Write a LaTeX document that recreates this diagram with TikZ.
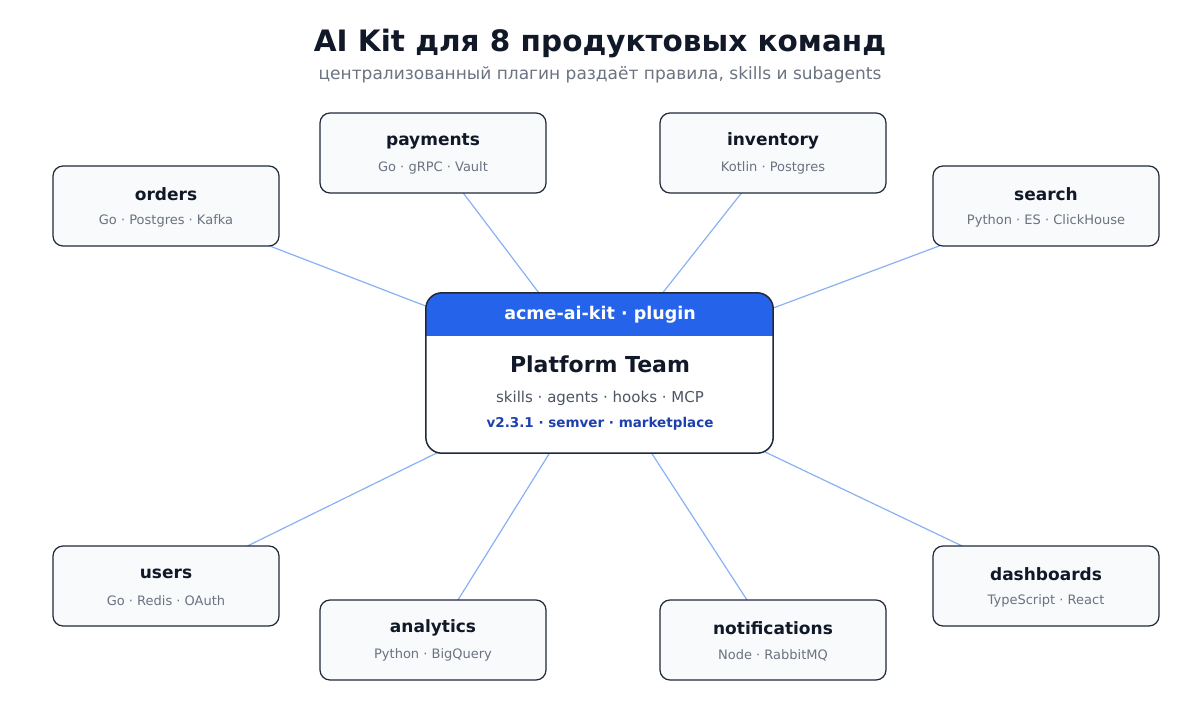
\documentclass[tikz,border=0pt]{standalone}
\usepackage{fontspec}
\setmainfont{DejaVu Sans}
\usetikzlibrary{backgrounds}
\definecolor{ink}{HTML}{111827}
\definecolor{muted}{HTML}{6B7280}
\definecolor{edge}{HTML}{1F2937}
\definecolor{boxfill}{HTML}{F8FAFC}
\definecolor{wire}{HTML}{8AB0F5}
\definecolor{hubblue}{HTML}{2563EB}
\definecolor{verblue}{HTML}{1E40AF}
\definecolor{grey}{HTML}{4B5563}

\tikzset{
  team/.style={draw=edge, fill=boxfill, line width=1.2pt, rounded corners=10pt,
    minimum width=226pt, minimum height=80pt},
  link/.style={draw=wire, line width=1.2pt}
}
\newcommand{\teambox}[4]{%
  \node[team] (#1) at (#2) {};
  \node[text=ink, font=\fontsize{17}{19}\selectfont\bfseries] at ([yshift=12pt]#1.center) {#3};
  \node[text=muted, font=\fontsize{13}{15}\selectfont] at ([yshift=-15pt]#1.center) {#4};
}

\begin{document}
\begin{tikzpicture}[x=1pt, y=-1pt]
    \useasboundingbox (0,0) rectangle (1200,720);

    \node[text=ink, font=\fontsize{29.5}{33}\selectfont\bfseries] (title) at (600,43) {AI Kit для 8 продуктовых команд};
    \node[text=muted, font=\fontsize{17}{19}\selectfont] (subtitle) at (600,75) {централизованный плагин раздаёт правила, skills и subagents};

    % hub
    \node[minimum width=347pt, minimum height=160pt] (hub) at (599.5,373) {};
    \begin{scope}
      \clip[rounded corners=16pt] (hub.north west) rectangle (hub.south east);
      \fill[white] (hub.north west) rectangle (hub.south east);
      \fill[hubblue] (hub.north west) rectangle ([yshift=-43pt]hub.north east);
    \end{scope}
    \draw[edge, line width=1.5pt, rounded corners=16pt] (hub.north west) rectangle (hub.south east);
    \node[text=white, font=\fontsize{17.5}{20}\selectfont\bfseries] at (600,315) {acme-ai-kit · plugin};
    \node[text=ink, font=\fontsize{22}{25}\selectfont\bfseries] at (600,364) {Platform Team};
    \node[text=grey, font=\fontsize{15}{17}\selectfont] at (600,398) {skills · agents · hooks · MCP};
    \node[text=verblue, font=\fontsize{13.5}{15}\selectfont\bfseries] at (600,424) {v2.3.1 · semver · marketplace};

    % teams
    \teambox{orders}{166,206}{orders}{Go · Postgres · Kafka}
    \teambox{payments}{433,153}{payments}{Go · gRPC · Vault}
    \teambox{inventory}{773,153}{inventory}{Kotlin · Postgres}
    \teambox{search}{1046,206}{search}{Python · ES · ClickHouse}
    \teambox{users}{166,586}{users}{Go · Redis · OAuth}
    \teambox{analytics}{433,640}{analytics}{Python · BigQuery}
    \teambox{notifications}{773,640}{notifications}{Node · RabbitMQ}
    \teambox{dashboards}{1046,586}{dashboards}{TypeScript · React}

    \begin{scope}[on background layer]
      \foreach \t in {orders,payments,inventory,search,users,analytics,notifications,dashboards}
        \draw[link] (\t.center) -- (hub.center);
    \end{scope}
\end{tikzpicture}
\end{document}
